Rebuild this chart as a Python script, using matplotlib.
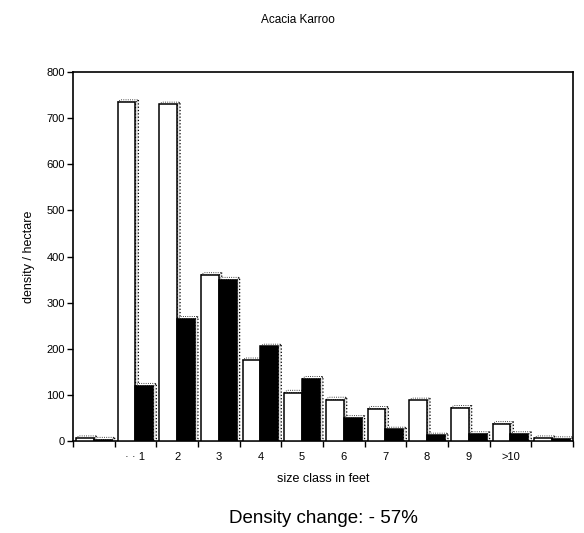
import numpy as np
import matplotlib
matplotlib.use("Agg")
import matplotlib.pyplot as plt
from matplotlib.patches import Polygon

plt.rcParams['font.family'] = ['Liberation Sans', 'DejaVu Sans']

# size classes (first and last groups are unlabeled on the original)
categories = ["", "· · 1", "2", "3", "4", "5", "6", "7", "8", "9", ">10", ""]
# density per hectare
density_before = [6, 735, 730, 360, 175, 105, 90, 70, 88, 72, 37, 6]
density_after = [3, 120, 265, 350, 205, 135, 50, 25, 12, 15, 15, 4]
y_ticks = [0, 100, 200, 300, 400, 500, 600, 700, 800]


def bar3d(ax, x, h, w, face, dx=0.07, dy=5):
    """Bar with a shallow side face to mimic the old 3D-look chart"""
    left, right = x - w / 2, x + w / 2
    side = Polygon([(right, 0), (right + dx, dy), (right + dx, h + dy), (right, h)],
                   closed=True, facecolor='#e4e4e4', edgecolor='black',
                   linewidth=0.9, linestyle=':', zorder=2)
    top = Polygon([(left, h), (left + dx, h + dy), (right + dx, h + dy), (right, h)],
                  closed=True, facecolor='white', edgecolor='black',
                  linewidth=0.6, linestyle=':', zorder=2)
    ax.add_patch(side)
    ax.add_patch(top)
    ax.bar(x, h, width=w, color=face, edgecolor='black', linewidth=1.1, zorder=3)


fig = plt.figure(figsize=(5.84, 5.33), dpi=100)
ax = fig.add_axes([0.125, 0.1726, 0.856, 0.692])

x = np.arange(len(categories))
w = 0.43
for i in x:
    bar3d(ax, i - w / 2, density_before[i], w, 'white')
    bar3d(ax, i + w / 2, density_after[i], w, 'black')

ax.set_xlim(-0.5, len(categories) - 0.5)
ax.set_ylim(0, 800)
ax.set_yticks(y_ticks)
ax.set_xticks(x)
ax.set_xticklabels(categories)
ax.set_xticks(np.arange(-0.5, len(categories), 1.0), minor=True)
ax.tick_params(axis='x', which='major', length=0, labelsize=8, pad=8)
ax.tick_params(axis='x', which='minor', length=4, width=1.0, direction='out')
ax.tick_params(axis='y', length=4, width=1.0, direction='out', labelsize=8, pad=2)
for s in ax.spines.values():
    s.set_linewidth(1.2)

ax.set_xlabel('size class in feet', fontsize=9, labelpad=8)
ax.set_ylabel('density / hectare', fontsize=9, labelpad=8)
fig.text(0.51, 0.962, 'Acacia Karroo', ha='center', va='center', fontsize=8.5)
fig.text(0.553, 0.028, 'Density change: - 57%', ha='center', va='center', fontsize=13.5)

fig.savefig('out.png', dpi=100)
